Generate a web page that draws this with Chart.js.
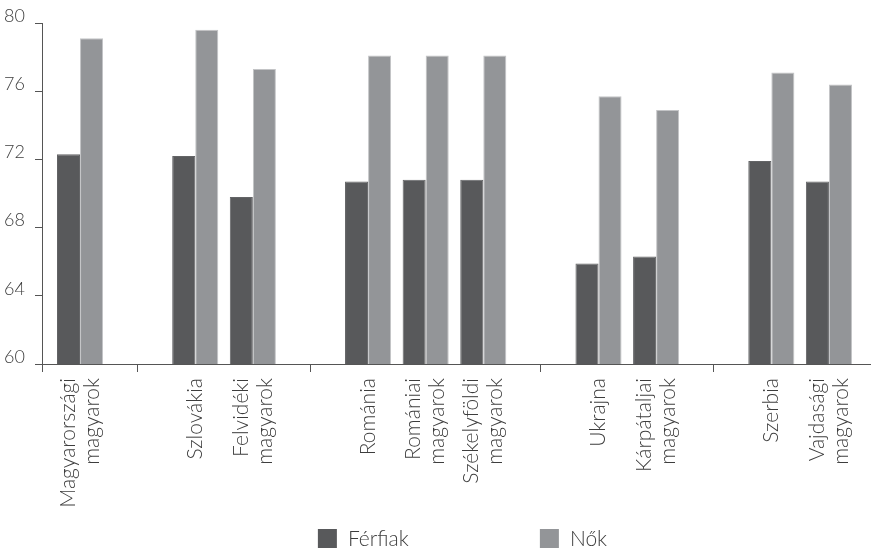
<!DOCTYPE html>
<html lang="hu">
<head>
<meta charset="UTF-8">
<title>Várható élettartam</title>
<script src="https://cdn.jsdelivr.net/npm/chart.js@4.4.1/dist/chart.umd.min.js"></script>
<style>
    html, body { margin: 0; padding: 0; background: #fff; }
    #lifeChart { display: block; }
</style>
</head>
<body>
<canvas id="lifeChart" width="871" height="551"></canvas>
<script>
// üres kategória = csoportelválasztó
const categories = [
    "Magyarországi\nmagyarok", "",
    "Szlovákia", "Felvidéki\nmagyarok", "",
    "Románia", "Romániai\nmagyarok", "Székelyföldi\nmagyarok", "",
    "Ukrajna", "Kárpátaljai\nmagyarok", "",
    "Szerbia", "Vajdasági\nmagyarok"
];
const seriesNames = ["Férfiak", "Nők"];
const menValues = [72.3, null, 72.2, 69.8, null, 70.7, 70.8, 70.8, null, 65.9, 66.3, null, 71.9, 70.7];
const womenValues = [79.1, null, 79.6, 77.3, null, 78.1, 78.1, 78.1, null, 75.7, 74.9, null, 77.1, 76.4];
const yTicks = [60, 64, 68, 72, 76, 80];

const TEXT_COLOR = "#3d3d3d";
const AXIS_COLOR = "#555555";
const FONT = "Lato";
const X_MIN = -0.66;
const X_MAX = 13.73;
const LINE_HEIGHT = 24;
const LEGEND_BOX = 19;
const LEGEND_GAP = 11;
const LEGEND_STEP = 222;

const toPoints = (values) => values.map((v, i) => ({x: i, y: v}));

const xLabels = {
    id: "xLabels",
    afterDraw: (chart) => {
        const {ctx} = chart;
        const xScale = chart.scales.x;

        ctx.save();
        ctx.font = `300 21px ${FONT}`;
        ctx.fillStyle = TEXT_COLOR;
        ctx.textAlign = "right";
        ctx.textBaseline = "middle";
        categories.forEach((label, i) => {
            if (!label) return;
            const lines = label.split("\n");
            const px = xScale.getPixelForValue(i);
            lines.forEach((line, j) => {
                ctx.save();
                ctx.translate(px + (j - (lines.length - 1) / 2) * LINE_HEIGHT, xScale.top + 14);
                ctx.rotate(-Math.PI / 2);
                ctx.fillText(line, 0, 0);
                ctx.restore();
            });
        });
        ctx.restore();
    },
};

const bottomLegend = {
    id: "bottomLegend",
    afterDraw: (chart) => {
        const {ctx, chartArea} = chart;
        const datasets = chart.data.datasets;

        ctx.save();
        ctx.font = `300 21px ${FONT}`;
        ctx.textAlign = "left";
        ctx.textBaseline = "middle";
        const lastWidth = LEGEND_BOX + LEGEND_GAP + ctx.measureText(datasets[datasets.length - 1].label).width;
        const total = LEGEND_STEP * (datasets.length - 1) + lastWidth;
        const x0 = (chartArea.left + chartArea.right) / 2 - total / 2 + 6;
        const y = chart.height - 12.5;
        datasets.forEach((ds, i) => {
            const x = x0 + i * LEGEND_STEP;
            ctx.fillStyle = ds.backgroundColor;
            ctx.fillRect(x, y - LEGEND_BOX / 2, LEGEND_BOX, LEGEND_BOX);
            ctx.fillStyle = TEXT_COLOR;
            ctx.fillText(ds.label, x + LEGEND_BOX + LEGEND_GAP, y + 1);
        });
        ctx.restore();
    },
};

const ctx = document.getElementById("lifeChart").getContext("2d");

new Chart(ctx, {
    type: "bar",
    data: {
        datasets: [{
            label: seriesNames[0],
            data: toPoints(menValues),
            backgroundColor: "#58595b",
            borderColor: "#636466",
            borderWidth: 1,
        }, {
            label: seriesNames[1],
            data: toPoints(womenValues),
            backgroundColor: "#939598",
            borderColor: "#c3c4c6",
            borderWidth: 1,
        }]
    },
    plugins: [xLabels, bottomLegend],
    options: {
        responsive: false,
        animation: false,
        categoryPercentage: 0.8,
        barPercentage: 1,
        layout: {
            padding: {top: 23, right: 0, bottom: 37, left: 0},
        },
        plugins: {
            legend: {display: false},
            tooltip: {enabled: false},
        },
        scales: {
            x: {
                type: "linear",
                min: X_MIN,
                max: X_MAX,
                offset: false,
                bounds: "data",
                afterBuildTicks: (scale) => {
                    const separators = categories
                        .map((c, i) => (c ? null : {value: i}))
                        .filter(Boolean);
                    scale.ticks = [{value: X_MIN}, ...separators];
                },
                afterFit: (scale) => {
                    scale.height = 150;
                },
                ticks: {display: false},
                grid: {
                    offset: false,
                    drawOnChartArea: false,
                    tickLength: 8,
                    color: AXIS_COLOR,
                },
                border: {color: AXIS_COLOR, width: 1},
            },
            y: {
                min: yTicks[0],
                max: yTicks[yTicks.length - 1],
                afterBuildTicks: (scale) => {
                    scale.ticks = yTicks.map((v) => ({value: v}));
                },
                afterFit: (scale) => {
                    scale.width = 42;
                },
                ticks: {
                    color: TEXT_COLOR,
                    padding: 10,
                    labelOffset: -7,
                    font: {family: FONT, size: 18, weight: 300},
                },
                grid: {
                    drawOnChartArea: false,
                    tickLength: 7,
                    color: AXIS_COLOR,
                },
                border: {color: AXIS_COLOR, width: 1},
            },
        },
    },
});
</script>
</body>
</html>
